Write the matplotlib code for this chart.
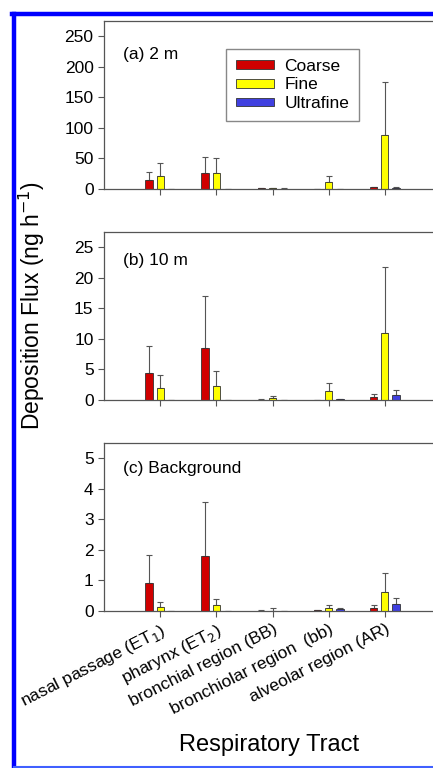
import matplotlib
matplotlib.use("Agg")
import matplotlib.pyplot as plt
from matplotlib.patches import Patch
from matplotlib.lines import Line2D
import numpy as np

plt.rcParams['font.family'] = ['Liberation Sans', 'DejaVu Sans']

# 呼吸器の部位
regions = ["nasal passage (ET$_1$)", "pharynx (ET$_2$)", "bronchial region (BB)",
           "bronchiolar region  (bb)", "alveolar region (AR)"]
size_names = ["Coarse", "Fine", "Ultrafine"]

# (a) 2 m
coarse_2m = [14, 27, 1.5, 0.5, 2.5]
coarse_2m_err = [13.5, 26, 0.5, 0.3, 0.8]
fine_2m = [21.5, 26, 1.0, 12, 88]
fine_2m_err = [20.5, 24, 1.0, 10, 87.5]
ultra_2m = [0, 0, 0.8, 0.5, 2]
ultra_2m_err = [0, 0, 0.3, 0.2, 0.5]

# (b) 10 m
coarse_10m = [4.35, 8.5, 0.05, 0.05, 0.5]
coarse_10m_err = [4.45, 8.6, 0.05, 0.02, 0.5]
fine_10m = [2.0, 2.3, 0.3, 1.4, 10.9]
fine_10m_err = [2.1, 2.4, 0.3, 1.4, 10.8]
ultra_10m = [0, 0, 0.05, 0.15, 0.8]
ultra_10m_err = [0, 0, 0.02, 0.05, 0.8]

# (c) Background
coarse_bg = [0.92, 1.79, 0.01, 0.02, 0.1]
coarse_bg_err = [0.9, 1.77, 0.01, 0.01, 0.1]
fine_bg = [0.14, 0.2, 0.01, 0.09, 0.63]
fine_bg_err = [0.16, 0.18, 0.1, 0.11, 0.63]
ultra_bg = [0, 0, 0.01, 0.07, 0.23]
ultra_bg_err = [0, 0, 0.005, 0.02, 0.21]

panel_titles = ["(a) 2 m", "(b) 10 m", "(c) Background"]
title_y = [0.80, 0.833, 0.85]
yticks_list = [[0, 50, 100, 150, 200, 250], [0, 5, 10, 15, 20, 25], [0, 1, 2, 3, 4, 5]]
colors = ["#d00000", "#ffff00", "#4040e0"]

panels = [
    (coarse_2m, coarse_2m_err, fine_2m, fine_2m_err, ultra_2m, ultra_2m_err),
    (coarse_10m, coarse_10m_err, fine_10m, fine_10m_err, ultra_10m, ultra_10m_err),
    (coarse_bg, coarse_bg_err, fine_bg, fine_bg_err, ultra_bg, ultra_bg_err),
]

W, H = 433, 768
fig = plt.figure(figsize=(W / 100, H / 100), dpi=100)

# 青い枠
fig.lines.append(Line2D([14 / W, 14 / W], [0, 1 - 14 / H], transform=fig.transFigure,
                        color="#0000ff", linewidth=3.2))
fig.lines.append(Line2D([12 / W, 1], [1 - 14 / H, 1 - 14 / H], transform=fig.transFigure,
                        color="#0000ff", linewidth=3.2))
fig.lines.append(Line2D([14 / W, 1], [1.5 / H, 1.5 / H], transform=fig.transFigure,
                        color="#4060ff", linewidth=1.5))

x = np.arange(1, 6)
tops = [189, 400, 611]
axes = []
for i, (panel, top) in enumerate(zip(panels, tops)):
    ax = fig.add_axes([104 / W, 1 - top / H, 337 / W, 168 / H])
    axes.append(ax)
    vals = [panel[0], panel[2], panel[4]]
    errs = [panel[1], panel[3], panel[5]]
    for j, (v, e) in enumerate(zip(vals, errs)):
        pos = x + (j - 1) * 0.2
        ax.bar(pos, v, width=0.13, color=colors[j], edgecolor="#333333",
               linewidth=0.6, zorder=2)
        ax.errorbar(pos, v, yerr=[np.zeros(5), e], fmt="none", ecolor="#555555",
                    elinewidth=0.8, capsize=2.5, capthick=0.8, zorder=1)
    ymax = yticks_list[i][-1] * 1.1
    ax.set_ylim(0, ymax)
    ax.set_xlim(0, 6)
    ax.set_yticks(yticks_list[i])
    ax.set_xticks(x)
    ax.tick_params(axis="both", direction="out", length=4, width=0.8,
                   color="#555555", labelsize=12.5)
    for s in ax.spines.values():
        s.set_color("#555555")
        s.set_linewidth(0.9)
    ax.text(0.055, title_y[i], panel_titles[i], transform=ax.transAxes,
            fontsize=12.5, va="center")
    if i < 2:
        ax.set_xticklabels([])
    else:
        ax.set_xticklabels(regions, rotation=27, ha="right", rotation_mode="anchor",
                           fontsize=12.5)

handles = [Patch(facecolor=c, edgecolor="#333333", linewidth=0.6) for c in colors]
axes[0].legend(handles, size_names, loc="upper left", bbox_to_anchor=(0.362, 0.833),
               fontsize=12.5, handlelength=2.2, handleheight=0.4, handletextpad=0.6,
               labelspacing=0.22, borderpad=0.55, borderaxespad=0, fancybox=False,
               edgecolor="#888888", framealpha=1)

fig.text(32 / W, 1 - 306 / H, "Deposition Flux (ng h$^{\\mathsf{-1}}$)", rotation=90,
         ha="center", va="center", fontsize=16.5)
fig.text(269 / W, 1 - 745 / H, "Respiratory Tract", ha="center", va="center", fontsize=17)

fig.savefig("out.png", dpi=100)
